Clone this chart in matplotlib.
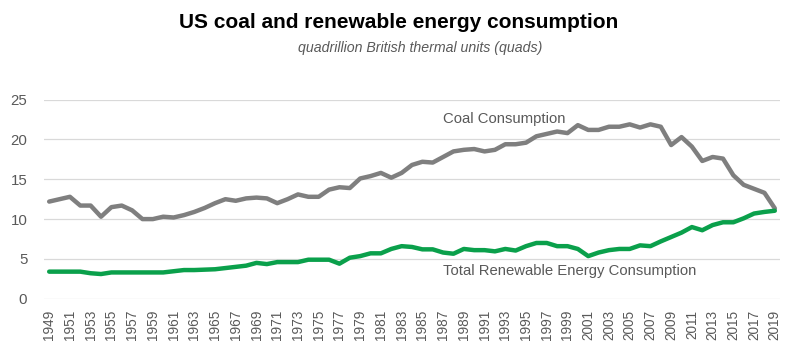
import matplotlib
matplotlib.use("Agg")
import matplotlib.pyplot as plt
import numpy as np

years = list(range(1949, 2020))
coal = [12.2, 12.5, 12.8, 11.7, 11.7, 10.3, 11.5, 11.7, 11.1, 10.0,
        10.0, 10.3, 10.2, 10.5, 10.9, 11.4, 12.0, 12.5, 12.3, 12.6,
        12.7, 12.6, 12.0, 12.5, 13.1, 12.8, 12.8, 13.7, 14.0, 13.9,
        15.1, 15.4, 15.8, 15.2, 15.8, 16.8, 17.2, 17.1, 17.8, 18.5,
        18.7, 18.8, 18.5, 18.7, 19.4, 19.4, 19.6, 20.4, 20.7, 21.0,
        20.8, 21.8, 21.2, 21.2, 21.6, 21.6, 21.9, 21.5, 21.9, 21.6,
        19.3, 20.3, 19.1, 17.3, 17.8, 17.6, 15.5, 14.3, 13.8, 13.3,
        11.35]
renew = [3.4, 3.4, 3.4, 3.4, 3.2, 3.1, 3.3, 3.3, 3.3, 3.3,
         3.3, 3.3, 3.45, 3.6, 3.6, 3.65, 3.7, 3.85, 4.0, 4.15,
         4.5, 4.35, 4.6, 4.6, 4.6, 4.9, 4.9, 4.9, 4.4, 5.15,
         5.35, 5.7, 5.7, 6.25, 6.6, 6.5, 6.2, 6.2, 5.8, 5.65,
         6.25, 6.1, 6.1, 5.95, 6.25, 6.05, 6.6, 7.0, 7.0, 6.6,
         6.6, 6.25, 5.35, 5.8, 6.1, 6.25, 6.25, 6.7, 6.6, 7.2,
         7.75, 8.3, 9.0, 8.6, 9.25, 9.6, 9.6, 10.1, 10.7, 10.9,
         11.05]
yticks = [0, 5, 10, 15, 20, 25]

title = "US coal and renewable energy consumption"
subtitle = "quadrillion British thermal units (quads)"
coal_label = "Coal Consumption"
renew_label = "Total Renewable Energy Consumption"

plt.rcParams['font.family'] = ['Liberation Sans', 'DejaVu Sans']

fig = plt.figure(figsize=(8, 3.58), dpi=100)
ax = fig.add_axes([0.055, 0.1656, 0.92, 0.556])

coal_c = '#7f7f7f'
green_c = '#0aa04b'
txt_c = '#595959'

ax.plot(years, coal, color=coal_c, lw=3.2, solid_capstyle='round', zorder=3)
ax.plot(years, renew, color=green_c, lw=3.2, solid_capstyle='round', zorder=3)

ax.set_xlim(1948.5, 2019.5)
ax.set_ylim(0, 25)
ax.set_yticks(yticks)
ax.set_xticks(years[::2])
ax.set_xticklabels([str(y) for y in years[::2]], rotation=90)
ax.tick_params(axis='both', length=0, colors=txt_c)
ax.tick_params(axis='y', labelsize=10.8, pad=12)
ax.tick_params(axis='x', labelsize=9.8, pad=8)
ax.grid(axis='y', color='#d9d9d9', lw=0.9)
ax.set_axisbelow(True)
for s in ax.spines.values():
    s.set_visible(False)

ax.text(1987.0, 22.6, coal_label, color=txt_c, fontsize=10.7, va='center', ha='left')
ax.text(1987.0, 3.45, renew_label, color=txt_c, fontsize=10.7, va='center', ha='left')

fig.text(0.498, 0.937, title, ha='center', va='center', fontsize=15, fontweight='bold', color='black')
fig.text(0.525, 0.866, subtitle, ha='center', va='center', fontsize=10.2, style='italic', color=txt_c)

fig.savefig('out.png', dpi=100)
